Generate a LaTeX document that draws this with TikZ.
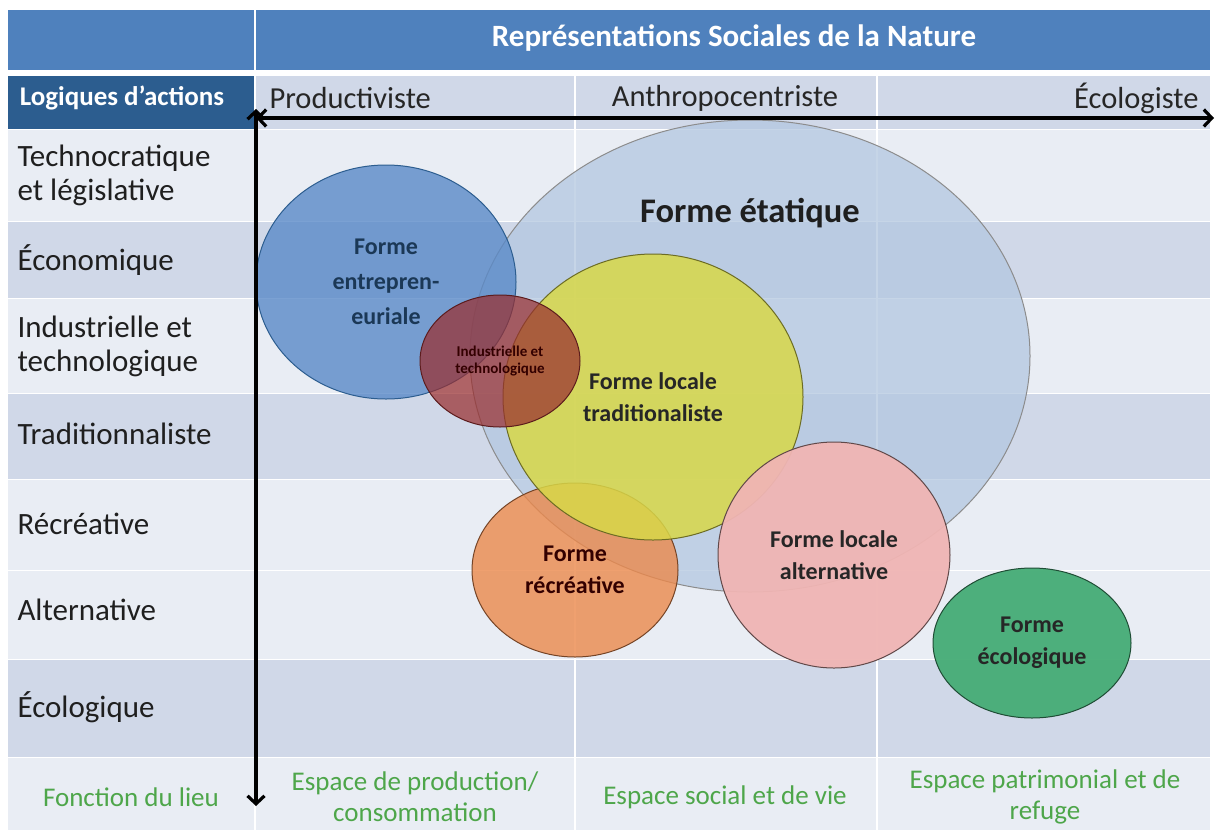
\documentclass[tikz,border=0pt]{standalone}
\usepackage{fontspec}
\setmainfont{Carlito}
\usepackage{tikz}
\usetikzlibrary{arrows.meta,calc,positioning,shapes.geometric}
\definecolor{hdrblue}{HTML}{4F81BD}
\definecolor{hdrdark}{HTML}{2C5D8F}
\definecolor{bandlt}{HTML}{E9EDF4}
\definecolor{banddk}{HTML}{D0D8E8}
\definecolor{txtgreen}{HTML}{4EA64A}
\definecolor{etatc}{HTML}{B3C7E0}
\definecolor{entrec}{HTML}{5A8AC8}
\definecolor{indusc}{HTML}{992F30}
\definecolor{tradc}{HTML}{D8D848}
\definecolor{recrec}{HTML}{EB894C}
\definecolor{alterc}{HTML}{F0B5B4}
\definecolor{ecoloc}{HTML}{45AC76}

\begin{document}
\begin{tikzpicture}[x=1pt,y=-1pt,
  rowlbl/.style={anchor=west,align=left,text=black!88,font=\fontsize{31}{34}\selectfont},
  colhdr/.style={text=black!85,font=\fontsize{30.5}{32}\selectfont},
  lieu/.style={text=txtgreen,align=center,font=\fontsize{27}{31}\selectfont},
  forme/.style={ellipse,draw,line width=1pt,inner sep=0pt,fill opacity=0.8,text opacity=1,
    align=center,font=\bfseries\fontsize{24}{32}\selectfont},
  axe/.style={line width=3.2pt,{Straight Barb[length=8pt,width=17pt]}-{Straight Barb[length=8pt,width=17pt]}}]
% table
\fill[white] (0,0) rectangle (1216,830);
\fill[hdrblue] (8,10) rectangle (1210,70);
\fill[hdrdark] (8,76) rectangle (255,129);
\fill[banddk] (255,76) rectangle (1210,129);
\foreach \ya/\yb/\c in {129/221/bandlt,221/298/banddk,298/393/bandlt,393/479/banddk,
  479/570/bandlt,570/659/bandlt,659/757/banddk,757/830/bandlt}
  \fill[\c] (8,\ya) rectangle (1210,\yb);
\foreach \ya in {129,221,298,393,479,570,659,757}
  \draw[white,line width=1pt] (8,\ya) -- (1210,\ya);
\draw[white,line width=1.5pt] (255,10) -- (255,830);
\foreach \xa in {575,877} \draw[white,line width=1.5pt] (\xa,76) -- (\xa,830);

% headers
\node[text=white,font=\bfseries\fontsize{31}{34}\selectfont] (titre) at (734,38) {Représentations Sociales de la Nature};
\node[text=white,font=\bfseries\fontsize{27}{30}\selectfont] (logiq) at (122,98) {Logiques d’actions};
\node[colhdr,anchor=west] (prod) at (266,98) {Productiviste};
\node[colhdr] (anthro) at (725,98) {Anthropocentriste};
\node[colhdr,anchor=east] (ecolg) at (1202,98) {Écologiste};

% logiques d'actions
\node[rowlbl] (techno) at (14,175) {Technocratique\\et législative};
\node[rowlbl] (econ) at (14,260) {Économique};
\node[rowlbl] (indl) at (14,346) {Industrielle et\\technologique};
\node[rowlbl] (tradl) at (14,434) {Traditionnaliste};
\node[rowlbl] (recl) at (14,524) {Récréative};
\node[rowlbl] (altl) at (14,610) {Alternative};
\node[rowlbl] (ecol) at (14,707) {Écologique};

% fonction du lieu
\node[lieu] (fonct) at (131,797) {Fonction du lieu};
\node[lieu] (esprod) at (415,797) {Espace de production/\\consommation};
\node[lieu] (essoc) at (725,797) {Espace social et de vie};
\node[lieu] (espat) at (1045,797) {Espace patrimonial et de\\refuge};

% formes
\node[forme,draw=black!45,fill=etatc,fill opacity=0.75,minimum width=560pt,minimum height=472pt] (etat) at (750,356) {};
\node[forme,draw=hdrdark,fill=entrec,text=hdrdark!60!black,font=\bfseries\fontsize{24}{35}\selectfont,minimum width=260pt,minimum height=234pt] (entre) at (386,282) {Forme\\entrepren-\\euriale};
\node[forme,draw=recrec!50!black,fill=recrec,text=black!80!red,minimum width=206pt,minimum height=174pt] (recre) at (575,570) {Forme\\récréative};
\node[forme,draw=tradc!50!black,fill=tradc,fill opacity=0.85,text=black!85,minimum width=300pt,minimum height=286pt] (trad) at (653,397) {Forme locale\\traditionaliste};
\node[forme,draw=indusc!60!black,fill=indusc,fill opacity=0.72,text=black!80!red,font=\bfseries\fontsize{15}{17}\selectfont,minimum width=160pt,minimum height=132pt] (indus) at (500,361) {Industrielle et\\technologique};
\node[forme,draw=alterc!40!black,fill=alterc,fill opacity=0.95,text=black!85,minimum width=232pt,minimum height=226pt] (alter) at (834,555) {Forme locale\\alternative};
\node[forme,draw=ecoloc!45!black,fill=ecoloc,fill opacity=0.95,text=black!85,minimum width=198pt,minimum height=150pt] (ecolo) at (1032,643) {Forme\\écologique};
\node[text=black!88,font=\bfseries\fontsize{34.5}{38}\selectfont] (etatlbl) at (750,213) {Forme étatique};

% axes
\coordinate (vtop) at (256,109);
\coordinate (vbot) at (256,806);
\coordinate (hgau) at (256,118);
\coordinate (hdro) at (1214,118);
\draw[axe] (vtop) -- (vbot);
\draw[axe] (hgau) -- (hdro);
\end{tikzpicture}
\end{document}
